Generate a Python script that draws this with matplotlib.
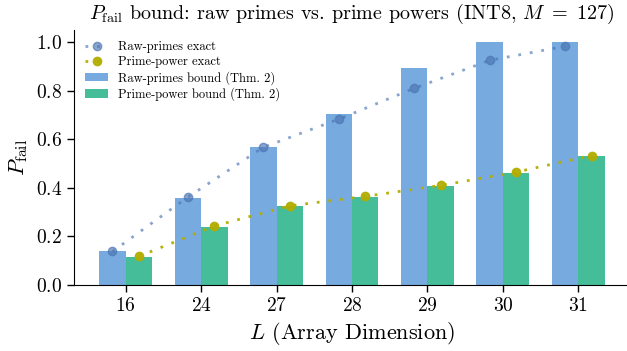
import matplotlib
matplotlib.use("Agg")
import matplotlib.pyplot as plt
import numpy as np

# === Data ===
L_values = ["16", "24", "27", "28", "29", "30", "31"]
raw_bound = [0.141, 0.359, 0.569, 0.705, 0.895, 1.0, 1.0]
pp_bound = [0.116, 0.240, 0.326, 0.363, 0.409, 0.463, 0.532]
raw_exact = [0.138, 0.362, 0.567, 0.683, 0.810, 0.925, 0.983]
pp_exact = [0.118, 0.243, 0.326, 0.365, 0.410, 0.465, 0.533]

PALETTE = {
    "RawBar": "#77aadf",
    "PPBar": "#44bd98",
    "RawLine": "#4a74b2",
    "PPLine": "#b3ad00",
}

plt.rcParams.update({
    "font.family": "serif",
    "font.serif": ["cmr10"],
    "mathtext.fontset": "cm",
    "axes.formatter.use_mathtext": True,
    "axes.unicode_minus": False,
})

x = np.arange(len(L_values))
width = 0.35

fig = plt.figure(figsize=(6.27, 3.51), dpi=100)
ax = fig.add_axes([74 / 627, 66 / 351, 556 / 627, 255 / 351])

dots = (0, (1, 3.2))
ax.plot(x - width / 2, raw_exact, linestyle=dots, linewidth=2, marker="o", markersize=6,
        color=PALETTE["RawLine"], alpha=0.65, label="Raw-primes exact", zorder=3)
ax.plot(x + width / 2, pp_exact, linestyle=dots, linewidth=2, marker="o", markersize=6,
        color=PALETTE["PPLine"], alpha=0.95, label="Prime-power exact", zorder=3)
ax.bar(x - width / 2, raw_bound, width, color=PALETTE["RawBar"], label="Raw-primes bound (Thm. 2)")
ax.bar(x + width / 2, pp_bound, width, color=PALETTE["PPBar"], label="Prime-power bound (Thm. 2)")

ax.set_xticks(x)
ax.set_ylim(0, 1.05)
ax.set_xlim(-0.685, 6.685)
ax.set_yticks([0.0, 0.2, 0.4, 0.6, 0.8, 1.0])
ax.tick_params(labelsize=14, length=5, width=1)
ax.yaxis.set_major_formatter(matplotlib.ticker.FormatStrFormatter("$%.1f$"))
ax.set_xticklabels([f"${v}$" for v in L_values])

ax.spines["top"].set_visible(False)
ax.spines["right"].set_visible(False)

ax.set_xlabel(r"$L$ (Array Dimension)", fontsize=16)
ax.set_ylabel(r"$P_{\mathrm{fail}}$", fontsize=16)
ax.set_title(r"$P_{\mathrm{fail}}$ bound: raw primes vs. prime powers (INT8, $M\ =\ 127$)",
             fontsize=14.5, pad=8)

ax.legend(loc="upper left", fontsize=9, frameon=False, bbox_to_anchor=(0.0, 1.0),
          handlelength=1.8, labelspacing=0.22)

plt.savefig("out.png", dpi=100)
plt.close(fig)
